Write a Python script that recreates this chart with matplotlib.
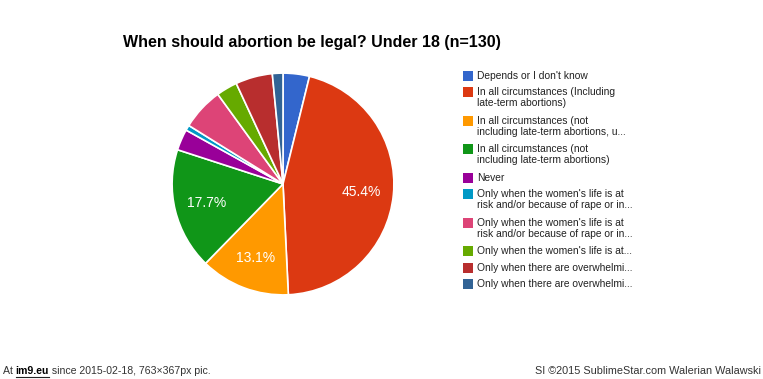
import matplotlib
matplotlib.use("Agg")
from matplotlib import pyplot as plt
from matplotlib.patches import Rectangle
from matplotlib import font_manager

# counts out of n=130
labels = [
    "Depends or I don't know",
    "In all circumstances (Including\nlate-term abortions)",
    "In all circumstances (not\nincluding late-term abortions, u...",
    "In all circumstances (not\nincluding late-term abortions)",
    "Never",
    "Only when the women's life is at\nrisk and/or because of rape or in...",
    "Only when the women's life is at\nrisk and/or because of rape or in...",
    "Only when the women's life is at...",
    "Only when there are overwhelmi...",
    "Only when there are overwhelmi...",
]
counts = [5, 59, 17, 23, 4, 1, 8, 4, 7, 2]
colors = ['#3366cc', '#dc3912', '#ff9900', '#109618', '#990099',
          '#0099c6', '#dd4477', '#66aa00', '#b82e2e', '#316395']

W, H = 763, 379
fig = plt.figure(figsize=(W / 100, H / 100), dpi=100)
fig.patch.set_facecolor('white')
plt.rcParams['font.family'] = ['Liberation Sans', 'DejaVu Sans']

# pie
cx, cy, r = 283, 184, 112
ax = fig.add_axes([(cx - r) / W, (H - cy - r) / H, 2 * r / W, 2 * r / H])


def pct_label(p):
    return '%.1f%%' % p if p >= 10 else ''


wedges, texts, autotexts = ax.pie(
    counts, colors=colors, startangle=90, counterclock=False,
    autopct=pct_label, pctdistance=0.71,
    wedgeprops=dict(edgecolor='white', linewidth=1.2),
    textprops=dict(color='white', fontsize=10))
ax.set_xlim(-1.01, 1.01)
ax.set_ylim(-1.01, 1.01)
ax.set_aspect('equal')
ax.axis('off')

# title
fig.text(123 / W, 1 - 43 / H, "When should abortion be legal? Under 18 (n=130)",
         fontsize=11.5, fontweight='bold', color='#000000', va='center', ha='left')

# legend
y = 75.7
for lab, col in zip(labels, colors):
    fig.patches.append(Rectangle((463 / W, 1 - (y + 5) / H), 10 / W, 10 / H,
                                 transform=fig.transFigure, facecolor=col,
                                 edgecolor='none'))
    lines = lab.split('\n')
    for i, ln in enumerate(lines):
        fig.text(477 / W, 1 - (y + 11 * i) / H, ln, fontsize=7.4,
                 color='#222222', va='center', ha='left')
    y += 16.5 + 12 * (len(lines) - 1)

# footer
names = {f.name for f in font_manager.fontManager.ttflist}
foot = [n for n in ['DejaVu Sans Condensed', 'Liberation Sans Narrow']
        if n in names] + ['Liberation Sans']
foot = foot[0]
fy = 1 - 371 / H
fig.canvas.draw()
rend = fig.canvas.get_renderer()
x = 3
parts = ["At ", "im9.eu", " since 2015-02-18, 763\u00d7367px pic."]
for k, s in enumerate(parts):
    t = fig.text(x / W, fy, s, fontsize=7.6, family=foot,
                 color='#000000' if k == 1 else '#333333',
                 fontweight='bold' if k == 1 else 'normal',
                 va='center', ha='left')
    w = t.get_window_extent(rend).width
    if k == 1:
        fig.add_artist(plt.Line2D([x / W, (x + w) / W],
                                  [1 - 377 / H, 1 - 377 / H],
                                  color='#222222', linewidth=0.8))
    x += w
fig.text(761 / W, fy, "SI \u00a92015 SublimeStar.com Walerian Walawski",
         fontsize=7.8, family=foot, color='#333333', va='center', ha='right')

fig.savefig('out.png', dpi=100, facecolor='white')
